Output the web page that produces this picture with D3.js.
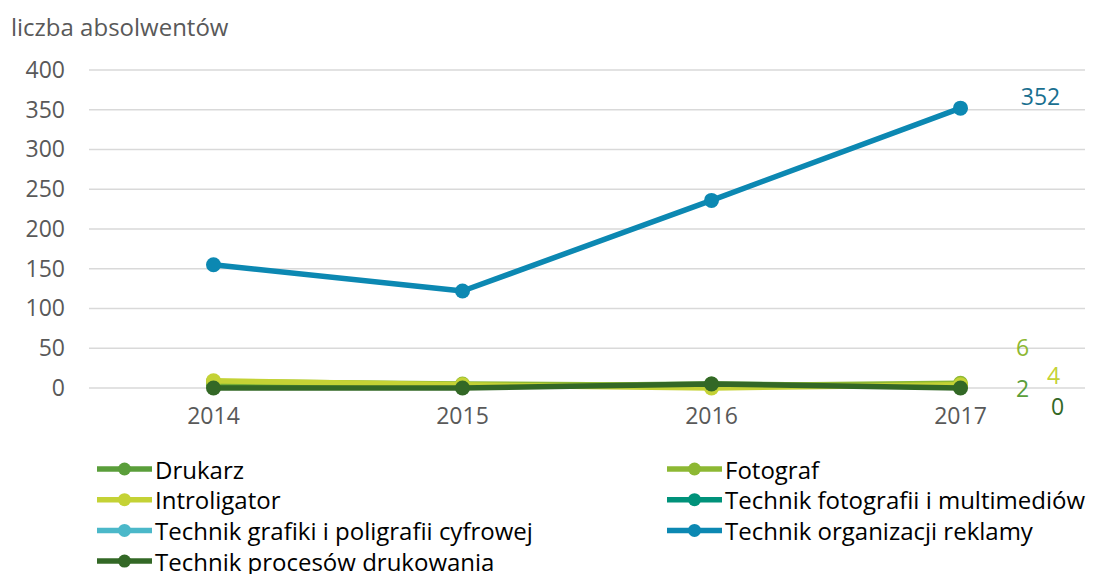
<!DOCTYPE html>
<html>
<head>
<meta charset="utf-8">
<script src="https://cdn.jsdelivr.net/npm/d3@7"></script>
<style>
  body { margin: 0; background: #fff; }
  svg text { font-family: "Open Sans", "Noto Sans", sans-serif; }
</style>
</head>
<body>
<svg id="chart" width="1100" height="574"></svg>
<script>
// dane
var years = ["2014", "2015", "2016", "2017"];
var yTicks = [0, 50, 100, 150, 200, 250, 300, 350, 400];

var drukarz = [3, 2, 5, 2];
var fotograf = [8, 5, 3, 6];
var introligator = [9, 4, 0, 4];
var technikFoto = [null, null, null, null];
var technikGrafiki = [null, null, null, null];
var technikReklamy = [155, 122, 236, 352];
var technikProcesow = [0, 0, 5, 0];

var seriesNames = ["Drukarz", "Fotograf", "Introligator", "Technik fotografii i multimediów",
  "Technik grafiki i poligrafii cyfrowej", "Technik organizacji reklamy", "Technik procesów drukowania"];
var seriesValues = [drukarz, fotograf, introligator, technikFoto, technikGrafiki, technikReklamy, technikProcesow];
var seriesColors = ["#5a9e3a", "#8db833", "#c4d235", "#00927a", "#4bb8c9", "#0c88b2", "#336826"];

// etykiety na koncu (tylko te ktore widac)
var endLabels = {
  "Technik organizacji reklamy": { dx: 80, dy: -12, color: "#1a7090" },
  "Fotograf": { dx: 62, dy: -36, color: "#8db833" },
  "Introligator": { dx: 93, dy: -10, color: "#c4d235" },
  "Drukarz": { dx: 62, dy: 2, color: "#5a9e3a" },
  "Technik procesów drukowania": { dx: 97, dy: 18, color: "#336826" }
};

var svg = d3.select("#chart");
var mLeft = 89, mRight = 1085, mTop = 70, mBottom = 388;

var x = d3.scaleBand().domain(years).range([mLeft, mRight]);
var y = d3.scaleLinear().domain([0, 400]).range([mBottom, mTop]);

// tytul osi
svg.append("text")
  .attr("x", 11).attr("y", 36)
  .attr("fill", "#595959")
  .style("font-size", "24px")
  .text("liczba absolwentów");

// siatka
svg.append("g").selectAll("line")
  .data(yTicks).enter().append("line")
  .attr("x1", mLeft).attr("x2", mRight)
  .attr("y1", function (d) { return y(d); })
  .attr("y2", function (d) { return y(d); })
  .attr("stroke", "#d9d9d9").attr("stroke-width", 1.5);

var yAxis = svg.append("g")
  .attr("transform", "translate(" + (mLeft - 24) + ",0)")
  .call(d3.axisLeft(y).tickValues(yTicks).tickSize(0).tickPadding(0));
yAxis.select(".domain").remove();
yAxis.selectAll("text").attr("fill", "#595959").style("font-size", "23px");

var xAxis = svg.append("g")
  .attr("transform", "translate(0," + mBottom + ")")
  .call(d3.axisBottom(x).tickSize(0).tickPadding(20));
xAxis.select(".domain").remove();
xAxis.selectAll("text").attr("fill", "#595959").style("font-size", "23px");

var line = d3.line()
  .defined(function (d) { return d != null; })
  .x(function (d, i) { return x(years[i]) + x.bandwidth() / 2; })
  .y(function (d) { return y(d); });

var order = [0, 1, 2, 3, 4, 6, 5];
order.forEach(function (s) {
  var vals = seriesValues[s];
  var g = svg.append("g");
  g.append("path")
    .attr("d", line(vals))
    .attr("fill", "none")
    .attr("stroke", seriesColors[s])
    .attr("stroke-width", 5.5)
    .attr("stroke-linejoin", "round");
  g.selectAll("circle")
    .data(vals.map(function (v, i) { return { v: v, i: i }; }).filter(function (d) { return d.v != null; }))
    .enter().append("circle")
    .attr("cx", function (d) { return x(years[d.i]) + x.bandwidth() / 2; })
    .attr("cy", function (d) { return y(d.v); })
    .attr("r", 7.5)
    .attr("fill", seriesColors[s]);

  var lab = endLabels[seriesNames[s]];
  if (lab) {
    var last = vals[vals.length - 1];
    g.append("text")
      .attr("x", x(years[3]) + x.bandwidth() / 2 + lab.dx)
      .attr("y", y(last) + lab.dy)
      .attr("text-anchor", "middle")
      .attr("dominant-baseline", "central")
      .attr("fill", lab.color)
      .style("font-size", "23px")
      .text(last);
  }
});

// legenda
var legend = svg.append("g");
seriesNames.forEach(function (name, i) {
  var col = i % 2, row = Math.floor(i / 2);
  var lx = 97 + col * 570, ly = 469 + row * 30.7;
  var it = legend.append("g").attr("transform", "translate(" + lx + "," + ly + ")");
  it.append("line").attr("x1", 0).attr("x2", 55).attr("y1", 0).attr("y2", 0)
    .attr("stroke", seriesColors[i]).attr("stroke-width", 5.5);
  it.append("circle").attr("cx", 27.5).attr("cy", 0).attr("r", 6.5).attr("fill", seriesColors[i]);
  it.append("text").attr("x", 58).attr("y", 0)
    .attr("dominant-baseline", "central")
    .attr("fill", "#000")
    .style("font-size", "24px")
    .text(name);
});
</script>
</body>
</html>
